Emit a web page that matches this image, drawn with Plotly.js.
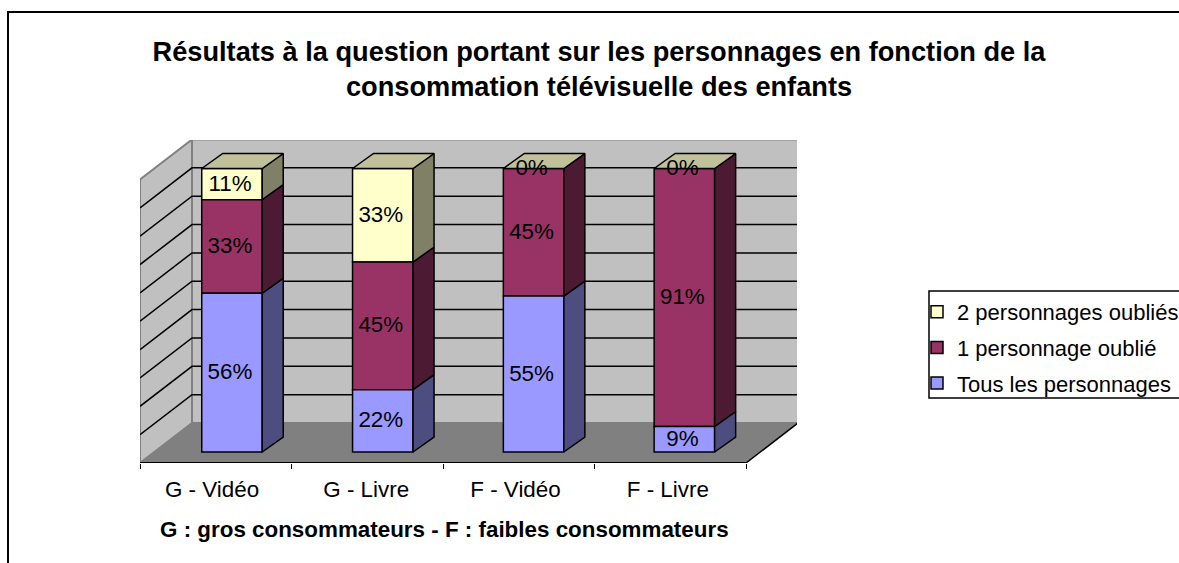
<!DOCTYPE html>
<html><head><meta charset="utf-8">
<script src="https://cdn.plot.ly/plotly-3.0.1.min.js"></script>
<style>html,body{margin:0;padding:0;background:#fff}#c{width:1179px;height:563px}</style>
</head><body><div id="c"></div>
<script>
const categories = ['G - Vidéo','G - Livre','F - Vidéo','F - Livre'];
const tous = [0.56,0.22,0.55,0.09];
const un = [0.33,0.45,0.45,0.91];
const deux = [0.11,0.33,0.00,0.00];
const labels = {tous:['56%','22%','55%','9%'],un:['33%','45%','45%','91%'],deux:['11%','33%','0%','0%']};
const seriesNames = ['Tous les personnages','1 personnage oublié','2 personnages oubliés'];
const frontColors = ['#9999FF','#993366','#FFFFCC'];
const sideColors = ['#4D4D80','#4D1A33','#808066'];
const topColor = '#C0C09A';

const W=1179,H=563,L=140,R=797,T=140,B=463,ux=150.8,uy=283.5;
const frontW=606/ux, wallDx=52/ux, wallDy=40/uy, barDx=21/ux, barDy=15/uy, lift=11/uy;
const barW=60.5/ux, barX=categories.map((_,i)=>i+0.61);
const labelDx=-2/ux, labelDy=-1/uy;
const px=x=>(x-L)/(R-L), py=y=>(B-y)/(B-T);
const poly=p=>'M'+p.map(q=>q.join(',')).join('L')+'Z';

const vals=[tous,un,deux];
const bases=[]; let cum=categories.map(()=>lift);
vals.forEach(v=>{bases.push(cum.slice()); cum=cum.map((c,i)=>c+v[i]);});

const traces=[];
[2,1,0].forEach(s=>{
  traces.push({type:'bar',x:barX,y:vals[s],base:bases[s],width:barW,name:seriesNames[s],legendgroup:'g'+s,
    marker:{color:frontColors[s],line:{color:'#000',width:1.5}},hoverinfo:'skip'});
});
vals.forEach((v,s)=>{
  const xs=[],ys=[];
  v.forEach((d,i)=>{
    const r=barX[i]+barW/2,b=bases[s][i],t=b+d;
    xs.push(r,r+barDx,r+barDx,r,r,null); ys.push(b,b+barDy,t+barDy,t,b,null);
  });
  traces.push({type:'scatter',mode:'lines',x:xs,y:ys,fill:'toself',fillcolor:sideColors[s],
    line:{color:'#000',width:1.5},showlegend:false,hoverinfo:'skip'});
});
{
  const xs=[],ys=[];
  categories.forEach((_,i)=>{
    const l=barX[i]-barW/2,r=barX[i]+barW/2,t=cum[i];
    xs.push(l,r,r+barDx,l+barDx,l,null); ys.push(t,t,t+barDy,t+barDy,t,null);
  });
  traces.push({type:'scatter',mode:'lines',x:xs,y:ys,fill:'toself',fillcolor:topColor,
    line:{color:'#000',width:1.5},showlegend:false,hoverinfo:'skip'});
}
const lab=[labels.tous,labels.un,labels.deux];
vals.forEach((v,s)=>{
  traces.push({type:'scatter',mode:'text',x:barX.map(x=>x+labelDx),y:v.map((d,i)=>bases[s][i]+d/2+labelDy),text:lab[s],
    textposition:'middle center',textfont:{family:'Liberation Sans',size:22.4,color:'#000'},
    showlegend:false,hoverinfo:'skip'});
});

const shapes=[];
const wallGray='#808080';
shapes.push({type:'path',layer:'below',xref:'x',yref:'y',path:poly([[wallDx,wallDy],[wallDx,1+wallDy],[wallDx+frontW,1+wallDy],[wallDx+frontW,wallDy]]),fillcolor:'#C0C0C0',line:{color:wallGray,width:2}});
shapes.push({type:'path',layer:'below',xref:'x',yref:'y',path:poly([[0,0],[0,1],[wallDx,1+wallDy],[wallDx,wallDy]]),fillcolor:'#C0C0C0',line:{color:wallGray,width:2}});
shapes.push({type:'path',layer:'below',xref:'x',yref:'y',path:poly([[0,0],[wallDx,wallDy],[wallDx+frontW,wallDy],[frontW,0]]),fillcolor:'#808080',line:{color:'rgba(0,0,0,0)',width:0}});
for(let k=1;k<10;k++){
  const g=k/10;
  shapes.push({type:'path',layer:'below',xref:'x',yref:'y',path:`M0,${g}L${wallDx},${g+wallDy}L${wallDx+frontW},${g+wallDy}`,line:{color:'#000',width:1.5}});
}
shapes.push({type:'line',layer:'below',xref:'x',yref:'y',x0:0,y0:0,x1:frontW,y1:0,line:{color:'#000',width:2}});
shapes.push({type:'line',layer:'below',xref:'x',yref:'y',x0:frontW,y0:0,x1:frontW+wallDx,y1:wallDy,line:{color:'#000',width:1.5}});
// outer frame
shapes.push({type:'path',xref:'paper',yref:'paper',path:`M${px(8)},${py(563)}L${px(8)},${py(12)}L${px(1179)},${py(12)}`,line:{color:'#000',width:2}});
// legend box
shapes.push({type:'path',xref:'paper',yref:'paper',path:`M${px(1179)},${py(291)}L${px(929)},${py(291)}L${px(929)},${py(398)}L${px(1179)},${py(398)}`,line:{color:'#000',width:1.5}});

const layout={
  width:W,height:H,showlegend:true,paper_bgcolor:'#fff',plot_bgcolor:'rgba(0,0,0,0)',
  margin:{l:L,r:W-R,t:T,b:H-B,pad:0,autoexpand:false},
  barmode:'overlay',
  title:{text:'Résultats à la question portant sur les personnages en fonction de la<br>consommation télévisuelle des enfants',
    x:599/W,xanchor:'center',y:1-61/H,yanchor:'middle',font:{family:'Liberation Sans',size:27.2,color:'#000',weight:'bold'}},
  xaxis:{range:[0,(R-L)/ux],showgrid:false,zeroline:false,showline:false,fixedrange:true,
    tickmode:'array',tickvals:[0.478,1.5,2.49,3.5],ticktext:categories,ticks:'outside',ticklen:6,tickcolor:'rgba(0,0,0,0)',
    tickfont:{family:'Liberation Sans',size:22.4,color:'#000'},
    minor:{tickmode:'array',tickvals:[0,1,2,3,4].map(i=>i*frontW/4),ticks:'outside',ticklen:5,tickcolor:'#000',tickwidth:1,showgrid:false}},
  yaxis:{range:[0,(B-T)/uy],visible:false,fixedrange:true},
  legend:{x:px(917),xanchor:'left',y:py(291),yanchor:'top',traceorder:'grouped',tracegroupgap:4,
    bgcolor:'rgba(0,0,0,0)',borderwidth:0,font:{family:'Liberation Sans',size:22,color:'#000'}},
  annotations:[{xref:'paper',yref:'paper',x:px(444),y:py(529),xanchor:'center',yanchor:'middle',showarrow:false,
    text:'<b>G : gros consommateurs - F : faibles consommateurs</b>',font:{family:'Liberation Sans',size:22.4,color:'#000'}}],
  shapes:shapes
};
Plotly.newPlot('c',traces,layout,{displayModeBar:false,staticPlot:true});
</script></body></html>
